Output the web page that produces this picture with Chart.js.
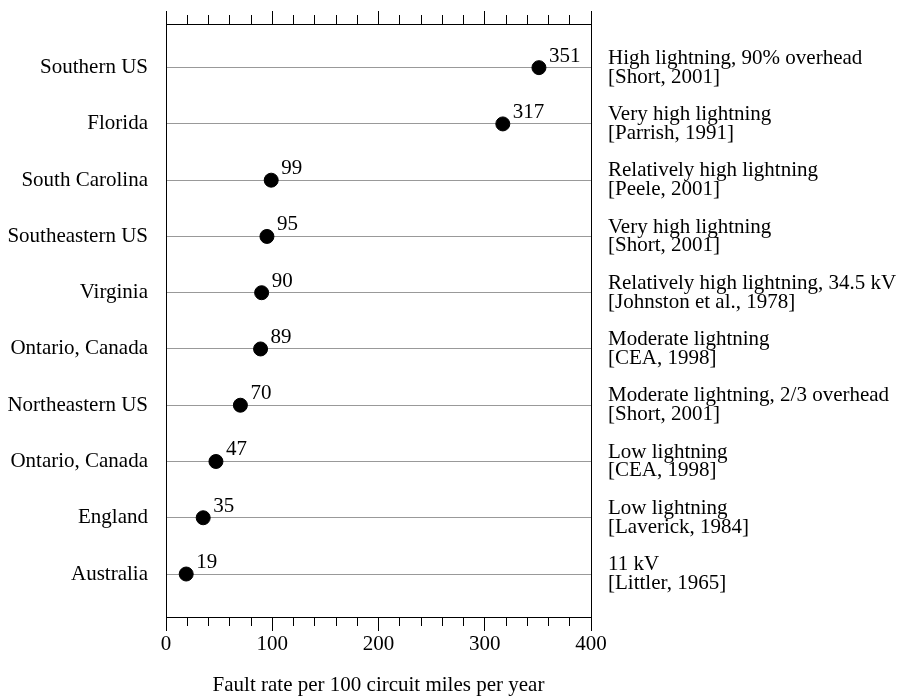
<!DOCTYPE html>
<html>
<head>
<meta charset="utf-8">
<script src="https://cdn.jsdelivr.net/npm/chart.js@4"></script>
<style>
  html, body { margin: 0; padding: 0; background: #fff; }
  #wrap { width: 897px; height: 698px; }
</style>
</head>
<body>
<div id="wrap"><canvas id="c" width="897" height="698"></canvas></div>
<script>
const regions = ['Southern US', 'Florida', 'South Carolina', 'Southeastern US', 'Virginia',
  'Ontario, Canada', 'Northeastern US', 'Ontario, Canada', 'England', 'Australia'];
const faultRates = [351, 317, 99, 95, 90, 89, 70, 47, 35, 19];
const notes = ['High lightning, 90% overhead', 'Very high lightning', 'Relatively high lightning',
  'Very high lightning', 'Relatively high lightning, 34.5 kV', 'Moderate lightning',
  'Moderate lightning, 2/3 overhead', 'Low lightning', 'Low lightning', '11 kV'];
const sources = ['[Short, 2001]', '[Parrish, 1991]', '[Peele, 2001]', '[Short, 2001]',
  '[Johnston et al., 1978]', '[CEA, 1998]', '[Short, 2001]', '[CEA, 1998]',
  '[Laverick, 1984]', '[Littler, 1965]'];
const xMin = 0, xMax = 400, majorStep = 100, minorStep = 20;
const axisTitle = 'Fault rate per 100 circuit miles per year';

const FONT = '"Liberation Serif", "Times New Roman", Times, serif';
Chart.defaults.font.family = FONT;
Chart.defaults.font.size = 21;
Chart.defaults.color = '#000';

const rowTicks = (scale) => { scale.ticks = regions.map((_, i) => ({ value: i + 1 })); };
const yMin = 0.224, yMax = 10.764;

const pointLabels = {
  id: 'pointLabels',
  afterDatasetsDraw(chart) {
    const ctx = chart.ctx;
    const meta = chart.getDatasetMeta(0);
    ctx.save();
    ctx.font = '21px ' + FONT;
    ctx.fillStyle = '#000';
    ctx.textAlign = 'left';
    ctx.textBaseline = 'alphabetic';
    meta.data.forEach((pt, i) => {
      ctx.fillText(String(faultRates[i]), pt.x + 10, pt.y - 6);
    });
    ctx.restore();
  }
};

const hiddenGrid = (len) => ({
  drawOnChartArea: false, drawTicks: true, tickLength: len,
  tickColor: '#000', tickWidth: 1, color: '#000', lineWidth: 1
});
const noPad = (s, w) => { s.width = w; s.paddingTop = 0; s.paddingBottom = 0; };

new Chart(document.getElementById('c'), {
  type: 'scatter',
  data: {
    datasets: [{
      data: faultRates.map((v, i) => ({ x: v, y: i + 1 })),
      xAxisID: 'x', yAxisID: 'y',
      pointRadius: 7, pointHoverRadius: 7,
      pointBackgroundColor: '#000', pointBorderColor: '#000', pointBorderWidth: 1
    }]
  },
  options: {
    responsive: false,
    animation: false,
    devicePixelRatio: 1,
    layout: { padding: 0 },
    plugins: { legend: { display: false }, tooltip: { enabled: false } },
    scales: {
      x: {
        type: 'linear', position: 'bottom', weight: 0, min: xMin, max: xMax,
        ticks: { display: false, stepSize: minorStep },
        grid: hiddenGrid(9),
        border: { display: true, color: '#000', width: 1 },
        afterFit: s => { s.height = 9; s.paddingLeft = 0; s.paddingRight = 0; }
      },
      xb: {
        type: 'linear', position: 'bottom', weight: 1, min: xMin, max: xMax,
        ticks: { stepSize: majorStep, padding: 1, maxRotation: 0, font: { size: 21, lineHeight: 1.2 } },
        grid: hiddenGrid(5),
        border: { display: false },
        title: { display: true, text: axisTitle, padding: { top: 0, bottom: 0 }, font: { size: 21, lineHeight: 1.2 } },
        afterFit: s => { s.height = 72; s.paddingLeft = 0; s.paddingRight = 0; }
      },
      xt: {
        type: 'linear', position: 'top', weight: 0, min: xMin, max: xMax,
        ticks: { display: false, stepSize: minorStep },
        grid: hiddenGrid(9),
        border: { display: true, color: '#000', width: 1 },
        afterFit: s => { s.height = 9; s.paddingLeft = 0; s.paddingRight = 0; }
      },
      xt2: {
        type: 'linear', position: 'top', weight: 1, min: xMin, max: xMax,
        ticks: { display: false, stepSize: majorStep },
        grid: hiddenGrid(4),
        border: { display: false },
        afterFit: s => { s.height = 15; s.paddingLeft = 0; s.paddingRight = 0; }
      },
      y: {
        type: 'linear', position: 'left', reverse: true, min: yMin, max: yMax,
        afterBuildTicks: rowTicks,
        ticks: { autoSkip: false, padding: 18, callback: v => regions[v - 1] },
        grid: { drawTicks: false, color: '#999', lineWidth: 1 },
        border: { display: true, color: '#000', width: 1 },
        afterFit: s => noPad(s, 166)
      },
      y2: {
        type: 'linear', position: 'right', reverse: true, min: yMin, max: yMax,
        afterBuildTicks: rowTicks,
        ticks: { autoSkip: false, padding: 17, font: { size: 21, lineHeight: '18.8px' },
          callback: v => [notes[v - 1], sources[v - 1]] },
        grid: { drawTicks: false, drawOnChartArea: false },
        border: { display: true, color: '#000', width: 1 },
        afterFit: s => noPad(s, 306)
      }
    }
  },
  plugins: [pointLabels]
});
</script>
</body>
</html>
